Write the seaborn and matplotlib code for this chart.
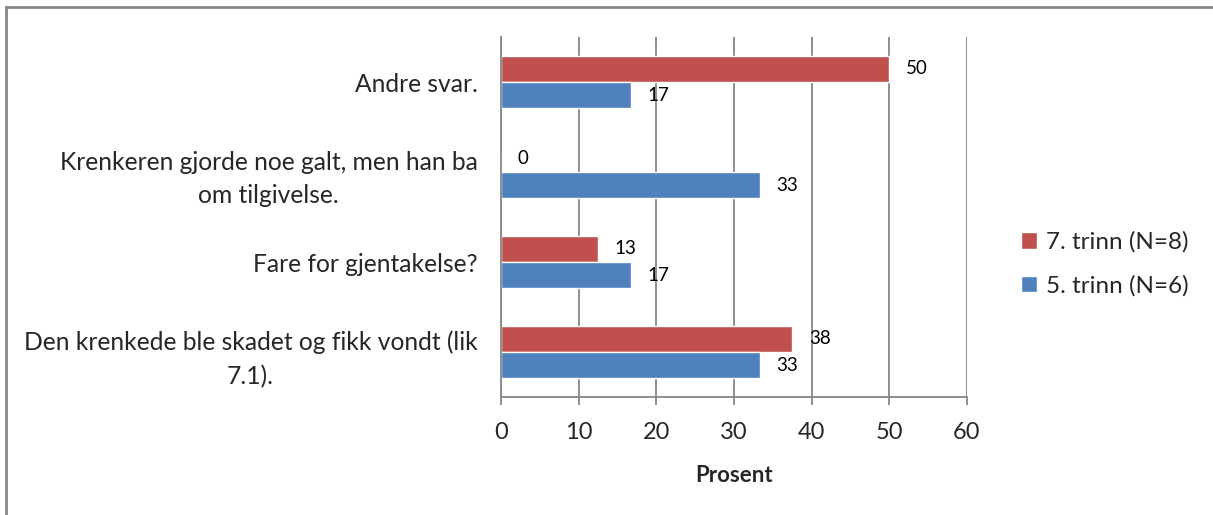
import matplotlib
matplotlib.use("Agg")
import matplotlib.pyplot as plt
import matplotlib.patches as mpatches
import seaborn as sns
import pandas as pd
import numpy as np

categories = [
    "Andre svar.",
    "Krenkeren gjorde noe galt, men han ba\nom tilgivelse.",
    "Fare for gjentakelse?",
    "Den krenkede ble skadet og fikk vondt (lik\n7.1).",
]
series_names = ["7. trinn (N=8)", "5. trinn (N=6)"]
trinn7 = [50, 0, 12.5, 37.5]
trinn5 = [16.7, 33.3, 16.7, 33.3]
colors = ["#C0504D", "#4F81BD"]
x_ticks = [0, 10, 20, 30, 40, 50, 60]

grid_col = "#868686"

# long format for seaborn
rows = []
for name, vals in zip(series_names, [trinn7, trinn5]):
    for cat, v in zip(categories, vals):
        rows.append({"Kategori": cat, "Serie": name, "Prosent": v})
df = pd.DataFrame(rows)

sns.set_style("white")
plt.rcParams["font.family"] = ["Lato", "DejaVu Sans"]

fig = plt.figure(figsize=(12.13, 5.15), dpi=100)
ax = fig.add_axes([501 / 1213, 1 - 397 / 515, 466 / 1213, 360 / 515])

sns.barplot(data=df, y="Kategori", x="Prosent", hue="Serie", order=categories,
            hue_order=series_names, palette=colors, orient="h", width=0.58,
            gap=0, saturation=1, ax=ax)

# value labels, rounded half up
for cont in ax.containers:
    vals = cont.datavalues
    labs = [str(int(np.floor(v + 0.5))) for v in vals]
    ax.bar_label(cont, labels=labs, padding=12, fontsize=13.5, color="black")

ax.set_xlim(0, 60)
ax.set_xticks(x_ticks)
ax.xaxis.grid(True, color=grid_col, linewidth=1.3)
ax.set_axisbelow(True)
for s in ["top", "right"]:
    ax.spines[s].set_visible(False)
for s in ["left", "bottom"]:
    ax.spines[s].set_color(grid_col)
    ax.spines[s].set_linewidth(1.3)
ax.tick_params(axis="x", length=6, width=1.3, color=grid_col, pad=12,
               labelsize=17, bottom=True)
ax.tick_params(axis="y", length=0, pad=17, labelsize=17.75)
for t in ax.get_yticklabels():
    t.set_multialignment("center")
    t.set_linespacing(1.55)

ax.set_ylabel("")
ax.set_xlabel("Prosent", fontsize=16, fontweight="bold", labelpad=16)

handles, labels = ax.get_legend_handles_labels()
ax.legend(handles, labels, loc="center left", bbox_to_anchor=(999 / 1213, 1 - 264 / 515),
          bbox_transform=fig.transFigure, frameon=False, fontsize=17.5,
          handlelength=0.65, handleheight=0.65, handletextpad=0.4, labelspacing=0.9)

# outer chart frame (cropped on right/bottom)
frame = mpatches.Rectangle((6 / 1213, -0.02), 1.05, 1 - 7 / 515 + 0.02,
                           transform=fig.transFigure, fill=False,
                           edgecolor=grid_col, linewidth=2)
fig.patches.append(frame)

fig.savefig("out.png", dpi=100)
